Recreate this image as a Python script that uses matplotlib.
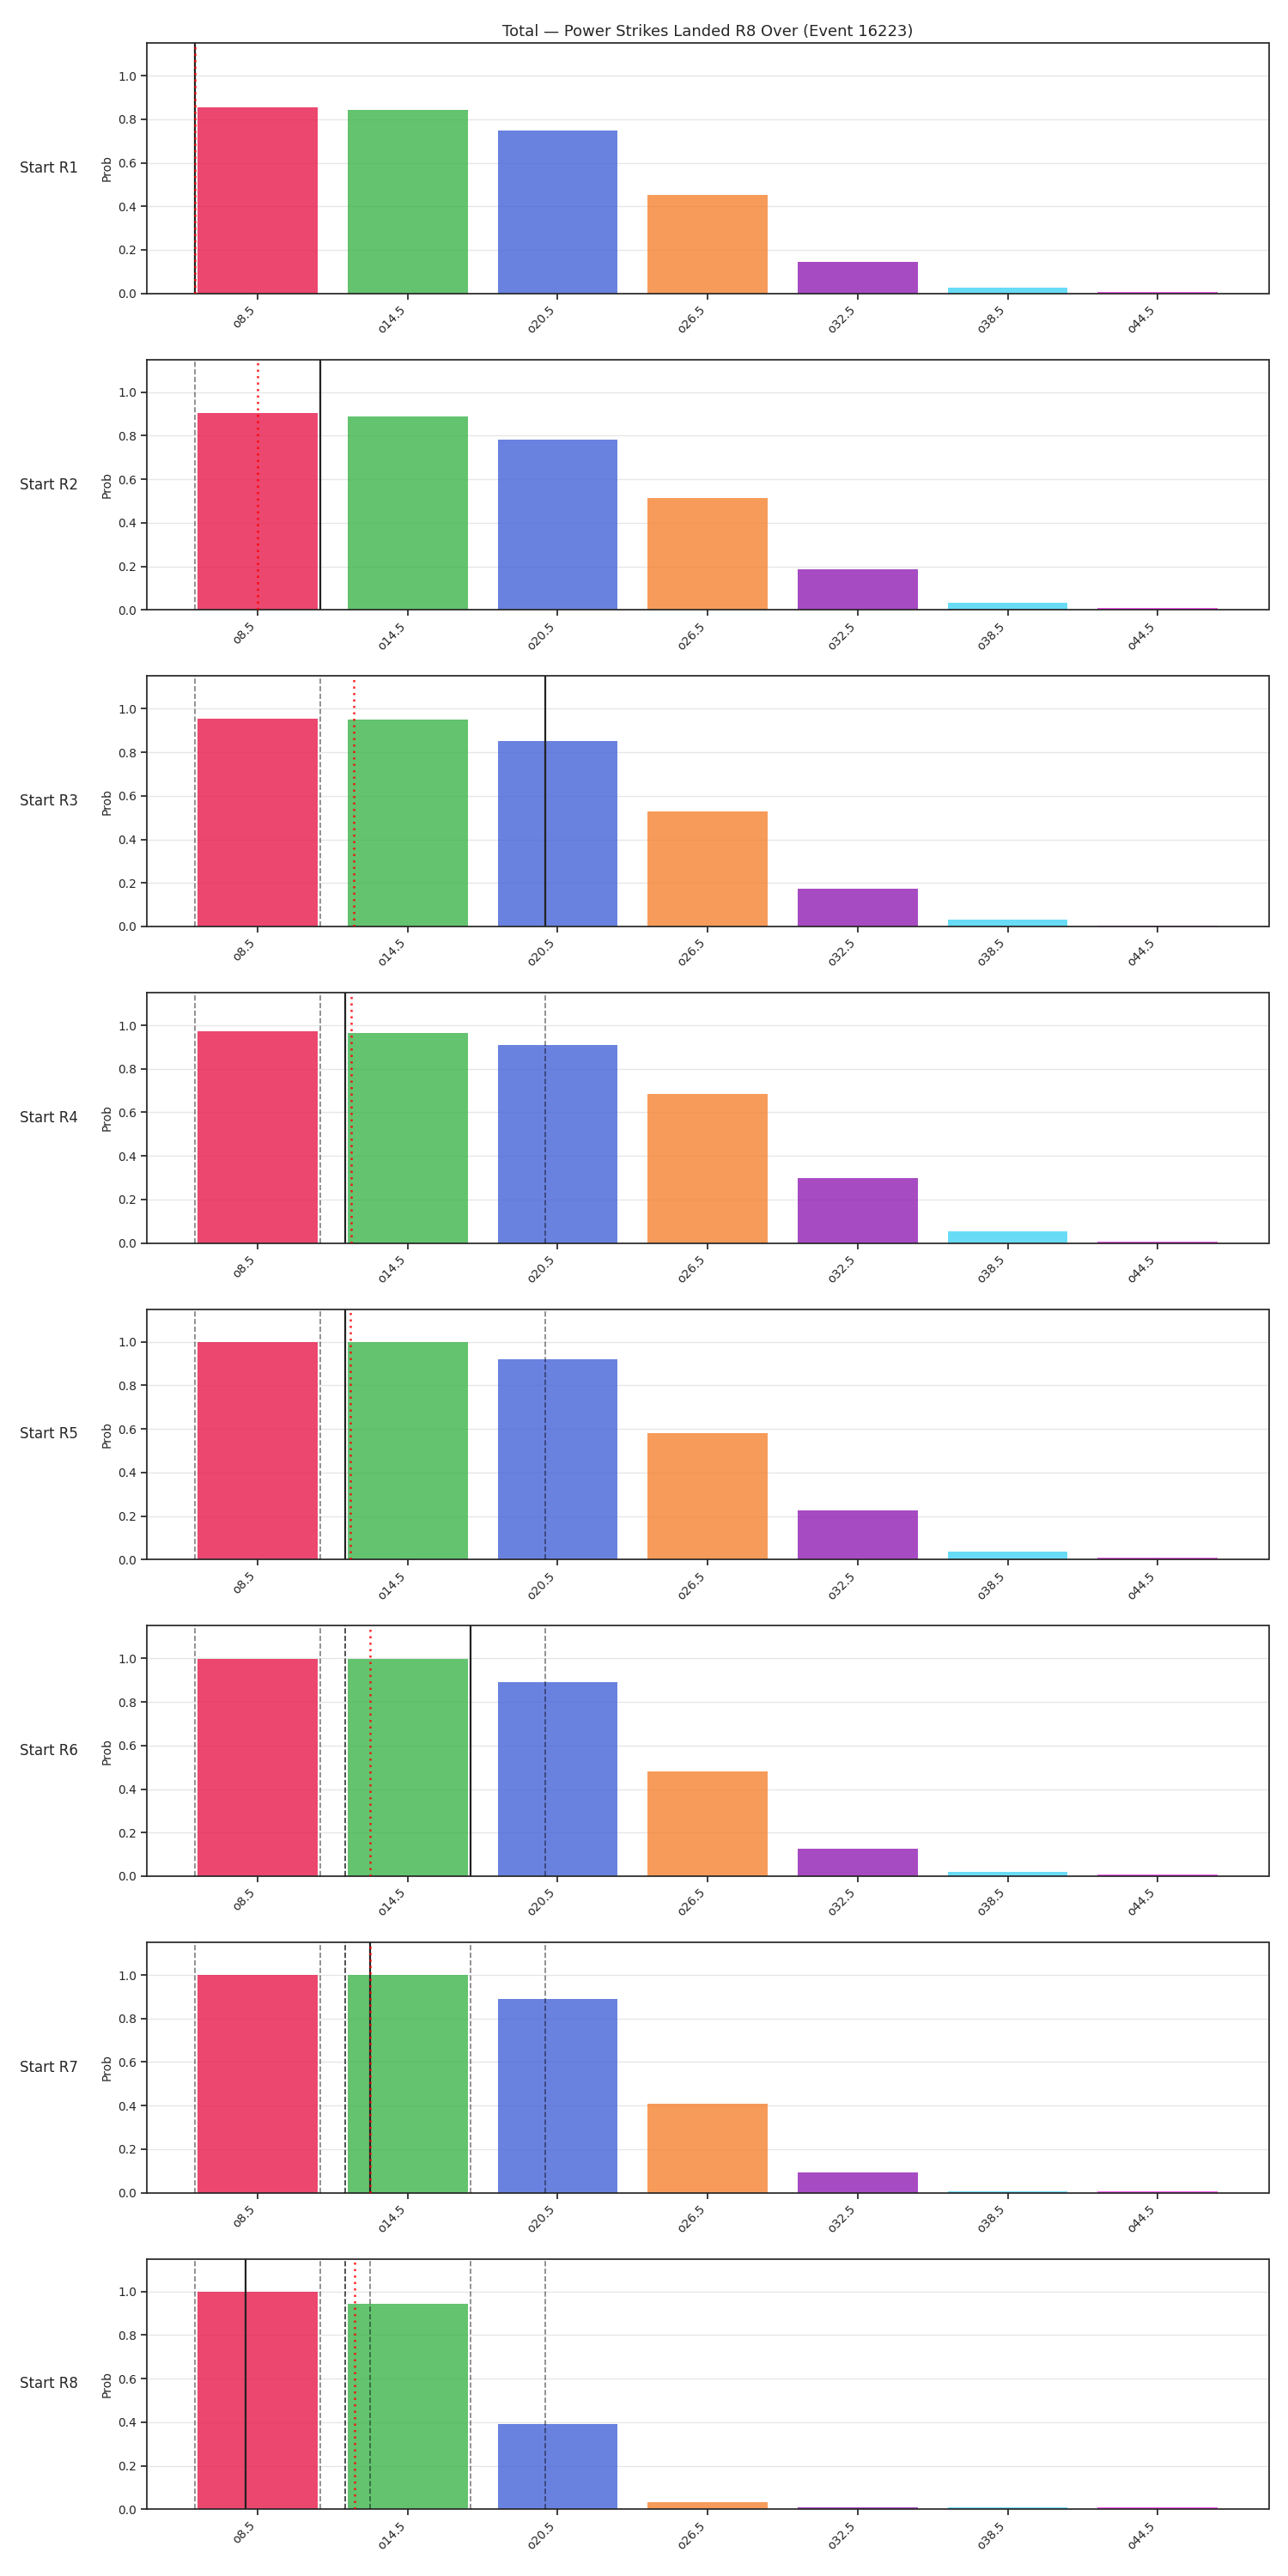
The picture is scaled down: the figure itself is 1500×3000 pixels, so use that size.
import numpy as np
import matplotlib
matplotlib.use("Agg")
import matplotlib.pyplot as plt

# ---------------- data ----------------
thresholds = [8.5, 14.5, 20.5, 26.5, 32.5, 38.5, 44.5]
labels = ["o8.5", "o14.5", "o20.5", "o26.5", "o32.5", "o38.5", "o44.5"]
rounds = ["Start R1", "Start R2", "Start R3", "Start R4",
          "Start R5", "Start R6", "Start R7", "Start R8"]

p_r1 = [0.855, 0.844, 0.749, 0.453, 0.145, 0.026, 0.008]
p_r2 = [0.905, 0.888, 0.782, 0.512, 0.185, 0.032, 0.008]
p_r3 = [0.955, 0.951, 0.850, 0.530, 0.174, 0.030, 0.002]
p_r4 = [0.974, 0.966, 0.911, 0.685, 0.298, 0.053, 0.008]
p_r5 = [0.997, 0.997, 0.921, 0.582, 0.225, 0.038, 0.008]
p_r6 = [0.997, 0.997, 0.891, 0.480, 0.128, 0.020, 0.008]
p_r7 = [0.999, 0.999, 0.888, 0.410, 0.095, 0.008, 0.008]
p_r8 = [0.999, 0.943, 0.390, 0.033, 0.008, 0.008, 0.008]
probs = [p_r1, p_r2, p_r3, p_r4, p_r5, p_r6, p_r7, p_r8]

# per-round landed value (black line); earlier rounds shown dashed, running mean dotted red
round_values = [6, 11, 20, 12, 12, 17, 13, 8]

title = "Total \u2014 Power Strikes Landed R8 Over (Event 16223)"

bar_colors = ["#e6194b", "#3cb44b", "#4363d8", "#f58231",
              "#911eb4", "#42d4f4", "#f032e6"]

# ---------------- style ----------------
plt.rcParams.update({
    "font.family": ["DejaVu Sans"],
    "font.size": 10,
    "axes.edgecolor": "#262626",
    "axes.linewidth": 1.25,
    "xtick.color": "#262626",
    "ytick.color": "#262626",
    "xtick.major.size": 5,
    "ytick.major.size": 5,
    "xtick.major.width": 1.25,
    "ytick.major.width": 1.25,
    "text.color": "#262626",
    "axes.labelcolor": "#262626",
})

fig, axes = plt.subplots(len(rounds), 1, figsize=(15, 30), dpi=100)
fig.subplots_adjust(left=0.1139, right=0.985, top=0.98333, bottom=0.0259, hspace=0.264)

x = np.arange(len(labels))
step = thresholds[1] - thresholds[0]

def to_pos(v):
    return (v - thresholds[0]) / step

for i, ax in enumerate(axes):
    ax.bar(x, probs[i], width=0.8, color=bar_colors, alpha=0.8,
           linewidth=0, zorder=2)
    ax.set_axisbelow(True)
    ax.yaxis.grid(True, color="#e6e6e6", linewidth=1)
    ax.set_xlim(-0.74, len(labels) - 1 + 0.74)
    ax.set_ylim(0, 1.15)
    ax.set_xticks(x)
    ax.set_xticklabels(labels, rotation=45, ha="right")
    ax.set_yticks([0, 0.2, 0.4, 0.6, 0.8, 1.0])
    ax.set_ylabel("Prob")
    ax.text(-0.0875, 0.5, rounds[i], transform=ax.transAxes,
            ha="center", va="center", fontsize=12)

    for v in round_values[:i]:
        ax.axvline(to_pos(v), color="black", alpha=0.5, linestyle="--",
                   linewidth=1.2, zorder=3)
    ax.axvline(to_pos(round_values[i]), color="#222222", linewidth=1.6, zorder=4)
    mean_v = np.mean(round_values[:i + 1])
    ax.axvline(to_pos(mean_v), color="red", alpha=0.85, linestyle=(0, (1, 2)),
               linewidth=1.8, zorder=5)

axes[0].set_title(title, fontsize=13)

fig.savefig("out.png", dpi=100)
